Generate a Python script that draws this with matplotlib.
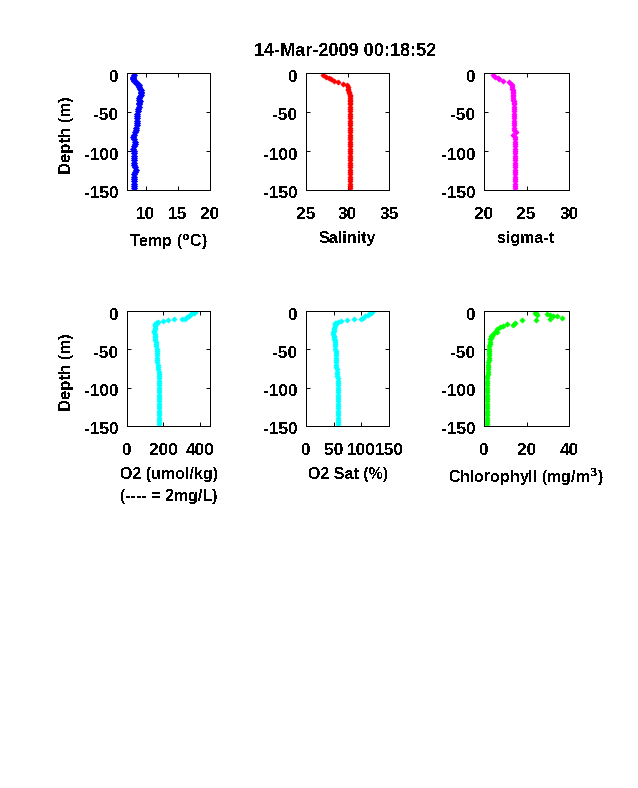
import matplotlib
matplotlib.use("Agg")
import matplotlib.pyplot as plt
from matplotlib.transforms import ScaledTranslation

deep_depth = [-40, -43, -46, -49, -52, -55, -58, -61, -64, -67, -70, -73, -76, -79, -82, -85, -88, -91, -94, -97, -100, -103, -106, -109, -112, -115, -118, -121, -124, -127, -130, -133, -136, -139, -142, -145, -148]

upper_depth = [-3, -5, -7, -8, -10, -12, -14, -16, -18, -20, -22, -24, -26, -28, -30, -32, -34, -36, -38]
temp_upper = [8.15, 8.1, 8.05, 8.05, 8.2, 8.5, 8.7, 8.9, 9.0, 9.1, 9.2, 9.2, 9.3, 9.2, 9.1, 9.0, 8.9, 9.1, 9.0]
temp_deep = [8.9, 8.9, 8.8, 8.75, 8.7, 8.7, 8.7, 8.7, 8.65, 8.6, 8.5, 8.45, 8.35, 8.25, 8.0, 8.2, 8.35, 8.4, 8.2, 8.1, 8.2, 8.2, 8.2, 8.2, 8.2, 8.2, 8.2, 8.3, 8.5, 8.4, 8.2, 8.2, 8.2, 8.2, 8.2, 8.2, 8.2]

sal_upper = [27.1, 27.4, 27.8, 28.0, 28.4, 28.9, 29.4, 29.9, 30.0, 30.1, 30.1, 30.2, 30.2, 30.25, 30.3, 30.3, 30.3, 30.3, 30.3]
sal_deep = [30.3, 30.3, 30.3, 30.3, 30.3, 30.3, 30.3, 30.3, 30.3, 30.3, 30.3, 30.3, 30.3, 30.3, 30.3, 30.3, 30.3, 30.3, 30.3, 30.3, 30.3, 30.3, 30.3, 30.3, 30.3, 30.3, 30.3, 30.3, 30.3, 30.3, 30.3, 30.3, 30.3, 30.3, 30.3, 30.3, 30.3]

sig_upper = [21.0, 21.3, 21.6, 21.8, 22.2, 22.9, 23.2, 23.3, 23.35, 23.35, 23.4, 23.4, 23.4, 23.4, 23.45, 23.45, 23.45, 23.5, 23.5]
sig_deep = [23.5, 23.5, 23.5, 23.5, 23.5, 23.5, 23.5, 23.5, 23.5, 23.5, 23.55, 23.55, 23.75, 23.4, 23.6, 23.6, 23.6, 23.6, 23.6, 23.6, 23.6, 23.6, 23.6, 23.6, 23.6, 23.6, 23.6, 23.6, 23.6, 23.6, 23.6, 23.6, 23.6, 23.6, 23.6, 23.6, 23.6]

o2_depth = [-1, -2, -3, -4, -6, -8, -10, -11, -11, -12, -13, -14, -15, -16, -17, -18, -20, -22, -24, -26, -28, -30, -32, -34, -36, -38]
o2_upper = [372, 365, 358, 350, 340, 330, 318, 300, 258, 227, 195, 172, 162, 158, 156, 155, 153, 152, 151, 150, 150, 151, 152, 153, 155, 156]
o2_deep = [157, 158, 160, 162, 163, 164, 165, 165, 165, 167, 168, 170, 172, 174, 175, 176, 177, 178, 178, 178, 178, 178, 178, 178, 177, 176, 175, 175, 175, 176, 177, 178, 178, 178, 178, 178, 178]

sat_depth = [-1, -2, -3, -5, -7, -9, -10, -11, -12, -13, -14, -15, -16, -17, -18, -20, -22, -24, -26, -28, -30, -32, -34, -36, -38]
sat_upper = [119, 118, 116, 112, 107, 103, 100, 86, 74, 64, 57, 54, 53, 53, 52, 52, 51, 50, 50, 49, 49, 50, 50, 51, 52]
sat_deep = [52, 52, 53, 53, 54, 54, 54, 54, 54, 55, 55, 55, 56, 56, 56, 56, 57, 57, 57, 57, 57, 57, 58, 58, 58, 58, 58, 57, 57, 57, 57, 58, 58, 58, 58, 58, 58]

chl_depth = [-2, -3, -5, -4, -5, -7, -10, -7, -9, -12, -12, -15, -18, -17, -20, -21, -23, -27, -28, -30, -32, -33, -35, -37]
chl_upper = [23.8, 24.6, 25.0, 29.6, 31.0, 32.5, 31.2, 34.3, 36.9, 24.3, 17.9, 14.7, 13.6, 11.0, 9.0, 7.4, 6.1, 6.3, 5.0, 4.2, 3.8, 3.5, 3.2, 3.0]
chl_deep = [2.7, 2.6, 2.5, 2.5, 2.4, 2.3, 2.3, 2.2, 2.2, 2.1, 1.9, 1.9, 1.8, 1.8, 1.7, 1.6, 1.6, 1.5, 1.4, 1.4, 1.3, 1.3, 1.3, 1.3, 1.3, 1.3, 1.3, 1.3, 1.3, 1.3, 1.2, 1.2, 1.2, 1.2, 1.2, 1.2, 1.2]

title = "14-Mar-2009 00:18:52"

plt.rcParams.update({
    "font.family": ["Liberation Sans", "DejaVu Sans"],
    "axes.unicode_minus": False,
    "text.antialiased": False,
    "mathtext.default": "bf",
})

W, H = 638, 788
fig = plt.figure(figsize=(W / 100, H / 100), dpi=100)


def make_ax(x0, x1, y0, y1, xd, yd, color, xlim, xticks, xlabel, ylabel=None, ms=2.7, labelpad=8):
    ax = fig.add_axes([x0 / W, 1 - y1 / H, (x1 - x0) / W, (y1 - y0) / H])
    ax.plot(xd, yd, ls="none", marker="D", ms=ms, color=color, mec=color, mew=0.4, antialiased=False)
    ax.set_xlim(*xlim)
    ax.set_ylim(-150, 0)
    ax.set_xticks(xticks)
    ax.set_yticks([0, -50, -100, -150])
    ax.tick_params(axis="both", direction="in", top=True, right=True, length=3, width=0.7, labelsize=12.4)
    ax.tick_params(axis="x", pad=12)
    ax.tick_params(axis="y", pad=6)
    shift = ScaledTranslation(0, -2.5 / 100, fig.dpi_scale_trans)
    for lab in ax.get_yticklabels():
        lab.set_transform(lab.get_transform() + shift)
    for lab in ax.get_xticklabels() + ax.get_yticklabels():
        lab.set_fontweight("bold")
    for s in ax.spines.values():
        s.set_linewidth(0.7)
        s.set_antialiased(False)
    ax.set_xlabel(xlabel, fontsize=11.5, fontweight="bold", labelpad=labelpad, linespacing=1.65)
    if ylabel:
        ax.set_ylabel(ylabel, fontsize=12, fontweight="bold", labelpad=7.5)
        ax.yaxis.label.set_y(0.47)
    return ax


top = (73, 190)
bot = (311, 426)
c1 = (127, 210)
c2 = (306, 389)
c3 = (484, 569)

make_ax(*c1, *top, temp_upper + temp_deep, upper_depth + deep_depth, "#0000ff", (7.1, 20), [10, 15, 20], r"Temp ($^{o}$C)", "Depth (m)", ms=3.2, labelpad=8)
make_ax(*c2, *top, sal_upper + sal_deep, upper_depth + deep_depth, "#ff0000", (25, 35), [25, 30, 35], "Salinity", labelpad=6.5)
make_ax(*c3, *top, sig_upper + sig_deep, upper_depth + deep_depth, "#ff00ff", (20, 30), [20, 25, 30], "sigma-t", labelpad=6.5)
make_ax(*c1, *bot, o2_upper + o2_deep, o2_depth + deep_depth, "#00ffff", (0, 455), [0, 200, 400], "O2 (umol/kg)\n(---- = 2mg/L)", "Depth (m)", labelpad=6.5)
make_ax(*c2, *bot, sat_upper + sat_deep, sat_depth + deep_depth, "#00ffff", (0, 150), [0, 50, 100, 150], "O2 Sat (%)", labelpad=6.5)
make_ax(*c3, *bot, chl_upper + chl_deep, chl_depth + deep_depth, "#00ff00", (0, 40), [0, 20, 40], r"Chlorophyll (mg/m$^{3}$)", labelpad=6.5)

fig.text(345 / W, 1 - 52 / H, title, ha="center", va="center", fontsize=13, fontweight="bold")

fig.savefig("out.png", dpi=100)
